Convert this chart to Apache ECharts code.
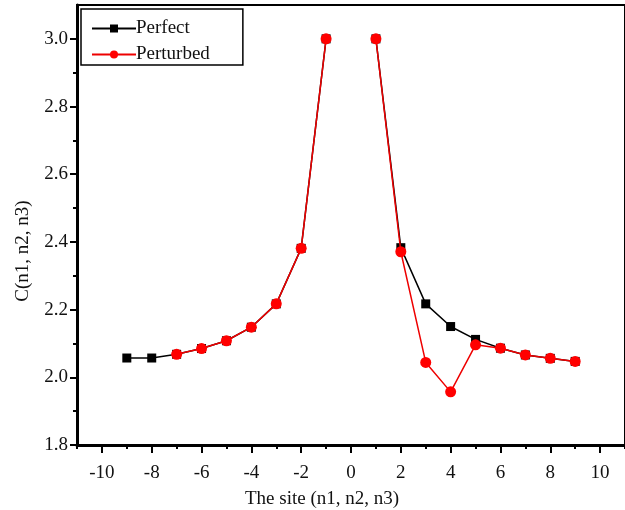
<!DOCTYPE html>
<html>
<head>
<meta charset="utf-8">
<script src="https://cdn.jsdelivr.net/npm/echarts@6/dist/echarts.min.js"></script>
<style>
  html, body { margin: 0; padding: 0; background: #fff; }
  #chart { width: 625px; height: 510px; }
</style>
</head>
<body>
<div id="chart"></div>
<script>
// Site index along the chain (no value at the origin itself)
const sites = [-9, -8, -7, -6, -5, -4, -3, -2, -1, 0, 1, 2, 3, 4, 5, 6, 7, 8, 9];
const perfect = [2.057, 2.057, 2.068, 2.085, 2.108, 2.148, 2.217, 2.381, 3.0, null,
                 3.0, 2.383, 2.217, 2.150, 2.112, 2.086, 2.066, 2.056, 2.047];
const perturbed = [null, null, 2.068, 2.085, 2.108, 2.148, 2.217, 2.381, 3.0, null,
                   3.0, 2.371, 2.044, 1.957, 2.096, 2.086, 2.066, 2.056, 2.047];

const xMajorTicks = [-10, -8, -6, -4, -2, 0, 2, 4, 6, 8, 10];
const xMinorTicks = [-11, -9, -7, -5, -3, -1, 1, 3, 5, 7, 9, 11];
const yMajorTicks = [1.8, 2.0, 2.2, 2.4, 2.6, 2.8, 3.0];
const yMinorTicks = [1.9, 2.1, 2.3, 2.5, 2.7, 2.9];

const FONT = '"Liberation Serif", "DejaVu Serif", serif';

function pairs(xs, ys) {
  const out = [];
  xs.forEach((x, i) => {
    if (ys[i] === null && (i === 0 || ys[i - 1] === null)) return;
    out.push([x, ys[i]]);
  });
  return out;
}

const chart = echarts.init(document.getElementById('chart'), null, { renderer: 'canvas' });

// hidden companion axes that only carry the minor ticks
const minorAxis = {
  splitLine: { show: false },
  axisLine: { show: false, onZero: false },
  axisLabel: { show: false }
};

chart.setOption({
  animation: false,
  backgroundColor: '#ffffff',
  grid: {
    left: 77, top: 5, width: 550, height: 440,
    show: true, borderColor: '#000', borderWidth: 2, backgroundColor: 'transparent'
  },
  legend: {
    orient: 'vertical',
    left: 81, top: 9,
    padding: [10, 33, 1, 10],
    itemGap: 7,
    itemWidth: 44,
    itemHeight: 10,
    borderColor: '#000',
    borderWidth: 1.5,
    textStyle: { fontFamily: FONT, fontSize: 19, color: '#111', padding: [0, 0, 0, -5] },
    data: ['Perfect', 'Perturbed']
  },
  xAxis: [
    {
      type: 'value', min: -11, max: 11,
      splitLine: { show: false },
      axisLine: { show: true, onZero: false, lineStyle: { color: '#000', width: 3 } },
      axisTick: { show: true, inside: false, length: 8, lineStyle: { color: '#000', width: 2 }, customValues: xMajorTicks },
      axisLabel: { fontFamily: FONT, fontSize: 19, color: '#111', margin: 19, customValues: xMajorTicks,
                   formatter: v => String(v) }
    },
    Object.assign({}, minorAxis, {
      type: 'value', min: -11, max: 11, position: 'bottom',
      axisTick: { show: true, length: 4, lineStyle: { color: '#000', width: 2 }, customValues: xMinorTicks }
    })
  ],
  yAxis: [
    {
      type: 'value', min: 1.8, max: 3.1,
      splitLine: { show: false },
      axisLine: { show: true, onZero: false, lineStyle: { color: '#000', width: 3 } },
      axisTick: { show: true, inside: false, length: 7, lineStyle: { color: '#000', width: 2 }, customValues: yMajorTicks },
      axisLabel: { fontFamily: FONT, fontSize: 19, color: '#111', margin: 9, customValues: yMajorTicks,
                   formatter: v => v.toFixed(1) }
    },
    Object.assign({}, minorAxis, {
      type: 'value', min: 1.8, max: 3.1, position: 'left',
      axisTick: { show: true, length: 4, lineStyle: { color: '#000', width: 2 }, customValues: yMinorTicks }
    })
  ],
  graphic: [
    {
      type: 'text', x: 322, y: 499,
      style: { text: 'The site (n1, n2, n3)', font: '19px ' + FONT, fill: '#111', align: 'center', verticalAlign: 'middle' }
    },
    {
      type: 'text', x: 23, y: 251, rotation: Math.PI / 2,
      style: { text: 'C(n1, n2, n3)', font: '19px ' + FONT, fill: '#111', align: 'center', verticalAlign: 'middle' }
    }
  ],
  series: [
    {
      name: 'Perfect', type: 'line',
      data: pairs(sites, perfect),
      connectNulls: false,
      symbol: 'rect', symbolSize: 9,
      itemStyle: { color: '#000' },
      lineStyle: { color: '#000', width: 1.5 },
      z: 2
    },
    {
      name: 'Perturbed', type: 'line',
      data: pairs(sites, perturbed),
      connectNulls: false,
      symbol: 'circle', symbolSize: 11,
      itemStyle: { color: '#f00' },
      lineStyle: { color: '#e00', width: 1.5 },
      z: 3
    }
  ]
});
</script>
</body>
</html>
